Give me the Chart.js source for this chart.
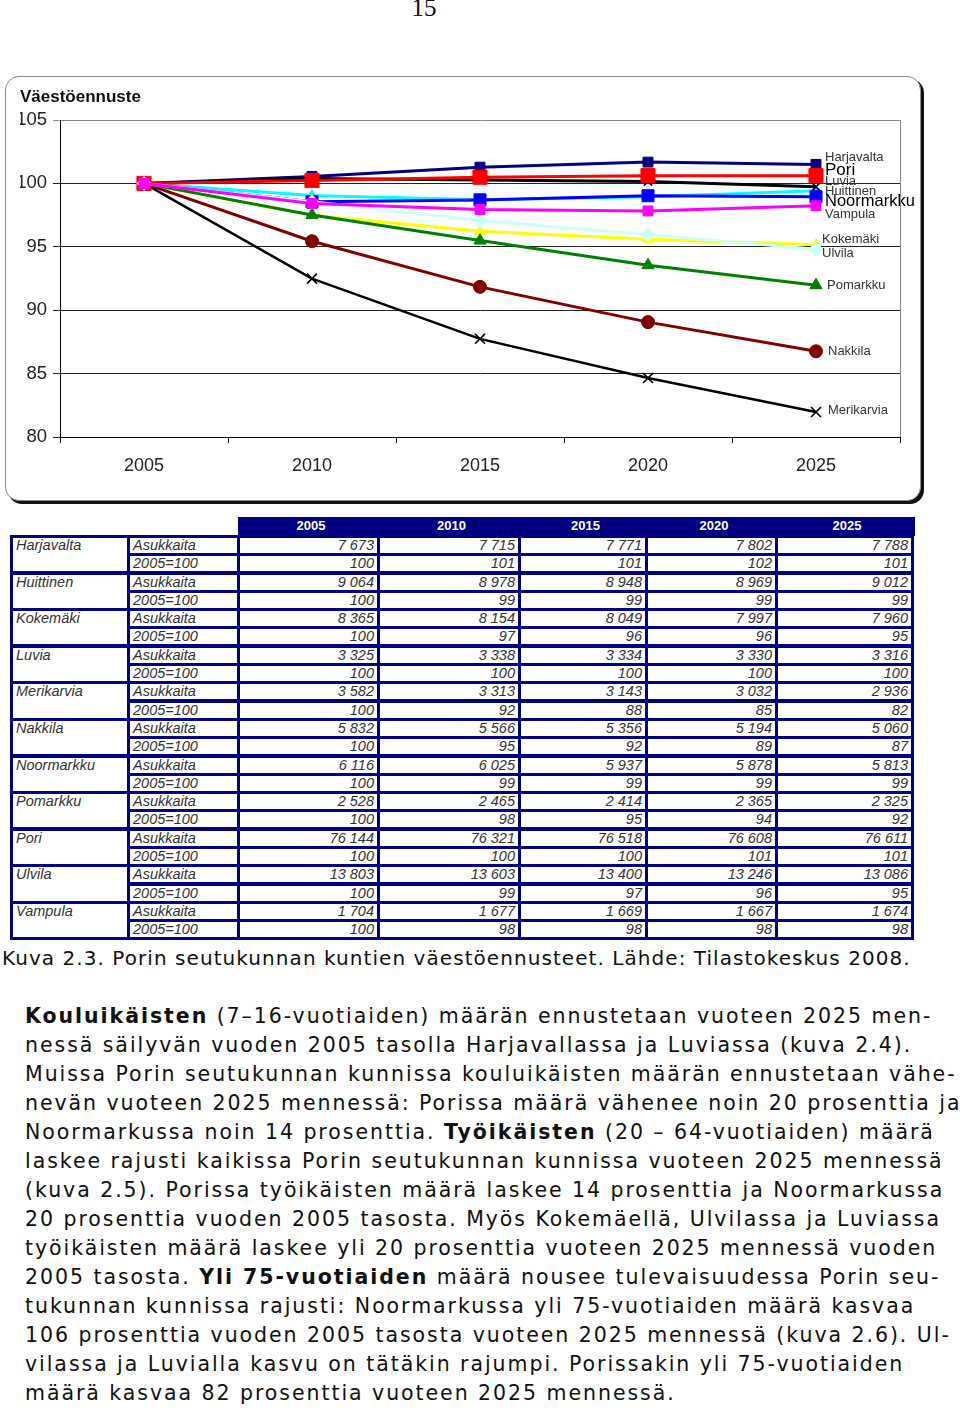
<!DOCTYPE html>
<html lang="fi">
<head>
<meta charset="utf-8">
<title>Väestöennuste</title>
<script src="https://cdn.jsdelivr.net/npm/chart.js@4.4.0/dist/chart.umd.min.js"></script>
<style>
  html, body { margin: 0; padding: 0; background: #fff; }
  body { width: 960px; height: 1411px; position: relative; overflow: hidden; font-family: "Liberation Sans", Arial, sans-serif; }
  .page-no { position: absolute; left: 0; top: -6px; width: 848px; text-align: center; font-family: "Liberation Serif", serif; font-size: 25px; color: #111; }
  .panel { position: absolute; left: 5px; top: 76px; width: 914px; height: 423px; border: 1px solid #8a8a8a; border-radius: 14px; box-shadow: 3px 3px 0 #111; background: #fff; }
  .chart-box { position: absolute; left: 5px; top: 76px; width: 918px; height: 427px; }
  .thead { position: absolute; left: 238px; top: 517px; height: 18px; background: #000080; display: flex; border-bottom: 1px solid #000; }
  .thead div { color: #fff; font-weight: bold; font-size: 13px; line-height: 18px; text-align: center; }
  .grid { position: absolute; left: 10px; top: 535px; background: #000080; padding: 3px; display: grid; column-gap: 3px; row-gap: 3.3px; }
  .grid div { background: #fff; padding: 0 3px; font-size: 14.5px; font-style: italic; color: #333; line-height: 15px; white-space: nowrap; overflow: hidden; }
  .grid div.num { text-align: right; }
  .grid div.name { grid-row: span 2; }
  .caption { position: absolute; left: 2px; top: 946px; font-family: "DejaVu Sans", Verdana, sans-serif; font-size: 20px; letter-spacing: 1.06px; line-height: 24px; color: #111; white-space: pre; }
  .para { position: absolute; left: 25px; top: 1002px; font-family: "DejaVu Sans", Verdana, sans-serif; font-size: 20.5px; letter-spacing: 1.95px; line-height: 29px; color: #111; }
  .para div { white-space: pre; }
</style>
</head>
<body>
<div class="page-no">15</div>
<div class="panel"></div>
<div class="chart-box"><canvas id="chart"></canvas></div>
<div class="thead" id="thead"></div>
<div class="grid" id="table"></div>
<div class="caption">Kuva 2.3. Porin seutukunnan kuntien väestöennusteet. Lähde: Tilastokeskus 2008.</div>
<div class="para">
<div><b>Kouluikäisten</b> (7–16-vuotiaiden) määrän ennustetaan vuoteen 2025 men-</div>
<div>nessä säilyvän vuoden 2005 tasolla Harjavallassa ja Luviassa (kuva 2.4).</div>
<div>Muissa Porin seutukunnan kunnissa kouluikäisten määrän ennustetaan vähe-</div>
<div>nevän vuoteen 2025 mennessä: Porissa määrä vähenee noin 20 prosenttia ja</div>
<div>Noormarkussa noin 14 prosenttia. <b>Työikäisten</b> (20 – 64-vuotiaiden) määrä</div>
<div>laskee rajusti kaikissa Porin seutukunnan kunnissa vuoteen 2025 mennessä</div>
<div>(kuva 2.5). Porissa työikäisten määrä laskee 14 prosenttia ja Noormarkussa</div>
<div>20 prosenttia vuoden 2005 tasosta. Myös Kokemäellä, Ulvilassa ja Luviassa</div>
<div>työikäisten määrä laskee yli 20 prosenttia vuoteen 2025 mennessä vuoden</div>
<div>2005 tasosta. <b>Yli 75-vuotiaiden</b> määrä nousee tulevaisuudessa Porin seu-</div>
<div>tukunnan kunnissa rajusti: Noormarkussa yli 75-vuotiaiden määrä kasvaa</div>
<div>106 prosenttia vuoden 2005 tasosta vuoteen 2025 mennessä (kuva 2.6). Ul-</div>
<div>vilassa ja Luvialla kasvu on tätäkin rajumpi. Porissakin yli 75-vuotiaiden</div>
<div>määrä kasvaa 82 prosenttia vuoteen 2025 mennessä.</div>
</div>

<script>
const years = ['2005', '2010', '2015', '2020', '2025'];

// Kuvaajan indeksit (2005=100), luettu kuvasta
const harjavalta = [100, 100.55, 101.28, 101.68, 101.50];
const huittinen = [100, 99.05, 98.72, 98.95, 99.43];
const kokemaki = [100, 97.48, 96.22, 95.60, 95.16];
const luvia = [100, 100.39, 100.27, 100.15, 99.73];
const merikarvia = [100, 92.49, 87.74, 84.65, 81.97];
const nakkila = [100, 95.44, 91.84, 89.06, 86.76];
const noormarkku = [100, 98.55, 98.70, 99.03, 98.95];
const pomarkku = [100, 97.51, 95.49, 93.55, 91.97];
const pori = [100, 100.23, 100.49, 100.61, 100.61];
const ulvila = [100, 98.55, 97.08, 95.96, 94.81];
const vampula = [100, 98.42, 97.95, 97.83, 98.24];

// Taulukon asukasluvut
const harjavaltaAsuk = [7673, 7715, 7771, 7802, 7788];
const huittinenAsuk = [9064, 8978, 8948, 8969, 9012];
const kokemakiAsuk = [8365, 8154, 8049, 7997, 7960];
const luviaAsuk = [3325, 3338, 3334, 3330, 3316];
const merikarviaAsuk = [3582, 3313, 3143, 3032, 2936];
const nakkilaAsuk = [5832, 5566, 5356, 5194, 5060];
const noormarkkuAsuk = [6116, 6025, 5937, 5878, 5813];
const pomarkkuAsuk = [2528, 2465, 2414, 2365, 2325];
const poriAsuk = [76144, 76321, 76518, 76608, 76611];
const ulvilaAsuk = [13803, 13603, 13400, 13246, 13086];
const vampulaAsuk = [1704, 1677, 1669, 1667, 1674];

// Taulukon indeksirivit (2005=100)
const harjavaltaInd = [100, 101, 101, 102, 101];
const huittinenInd = [100, 99, 99, 99, 99];
const kokemakiInd = [100, 97, 96, 96, 95];
const luviaInd = [100, 100, 100, 100, 100];
const merikarviaInd = [100, 92, 88, 85, 82];
const nakkilaInd = [100, 95, 92, 89, 87];
const noormarkkuInd = [100, 99, 99, 99, 99];
const pomarkkuInd = [100, 98, 95, 94, 92];
const poriInd = [100, 100, 100, 101, 101];
const ulvilaInd = [100, 99, 97, 96, 95];
const vampulaInd = [100, 98, 98, 98, 98];

const kunnat = [
    { name: 'Harjavalta', data: harjavalta, asuk: harjavaltaAsuk, ind: harjavaltaInd, color: '#000080', marker: 'rect', r: 7 },
    { name: 'Huittinen', data: huittinen, asuk: huittinenAsuk, ind: huittinenInd, color: '#00FFFF', marker: 'triangle', r: 6 },
    { name: 'Kokemäki', data: kokemaki, asuk: kokemakiAsuk, ind: kokemakiInd, color: '#FFFF00', marker: 'triangle', r: 6 },
    { name: 'Luvia', data: luvia, asuk: luviaAsuk, ind: luviaInd, color: '#000000', marker: 'crossRot', r: 6 },
    { name: 'Merikarvia', data: merikarvia, asuk: merikarviaAsuk, ind: merikarviaInd, color: '#000000', marker: 'crossRot', r: 7 },
    { name: 'Nakkila', data: nakkila, asuk: nakkilaAsuk, ind: nakkilaInd, color: '#800000', marker: 'circle', r: 6.5 },
    { name: 'Noormarkku', data: noormarkku, asuk: noormarkkuAsuk, ind: noormarkkuInd, color: '#0000FF', marker: 'rect', r: 8.5 },
    { name: 'Pomarkku', data: pomarkku, asuk: pomarkkuAsuk, ind: pomarkkuInd, color: '#008000', marker: 'triangle', r: 7 },
    { name: 'Pori', data: pori, asuk: poriAsuk, ind: poriInd, color: '#FF0000', marker: 'rect', r: 10 },
    { name: 'Ulvila', data: ulvila, asuk: ulvilaAsuk, ind: ulvilaInd, color: '#CCFFFF', marker: 'rectRot', r: 7 },
    { name: 'Vampula', data: vampula, asuk: vampulaAsuk, ind: vampulaInd, color: '#FF00FF', marker: 'rect', r: 7 }
];

// Nimien sijoittelu viivojen päähän
const labelStyle = {
    Harjavalta: { dy: -7, size: 13 },
    Pori: { dy: -5, size: 17 },
    Luvia: { dy: -5, size: 13 },
    Huittinen: { dy: 1, size: 13 },
    Noormarkku: { dy: 5, size: 16.5 },
    Vampula: { dy: 9, size: 13 },
    'Kokemäki': { dy: -5, size: 13, dx: -3 },
    Ulvila: { dy: 4, size: 13, dx: -3 },
    Pomarkku: { dy: 0, size: 13, dx: 2 },
    Nakkila: { dy: 0, size: 13, dx: 3 },
    Merikarvia: { dy: -2, size: 13, dx: 3 }
};

const colW = [114, 107, 137, 138, 124, 127, 133];

function formatNumber(n) {
    return String(n).replace(/\B(?=(\d{3})+(?!\d))/g, ' ');
}

// Taulukko
const thead = document.getElementById('thead');
years.forEach((y, i) => {
    const d = document.createElement('div');
    d.style.width = (colW[i + 2] + 3) + 'px';
    d.textContent = y;
    thead.appendChild(d);
});
thead.firstChild.style.paddingLeft = '3px';

const table = document.getElementById('table');
table.style.gridTemplateColumns = colW.map(w => w + 'px').join(' ');
table.style.gridTemplateRows = `repeat(${kunnat.length * 2}, 15px)`;
let html = '';
kunnat.forEach(k => {
    html += `<div class="name">${k.name}</div><div>Asukkaita</div>` +
        k.asuk.map(v => `<div class="num">${formatNumber(v)}</div>`).join('');
    html += '<div>2005=100</div>' + k.ind.map(v => `<div class="num">${v}</div>`).join('');
});
table.innerHTML = html;

// Kuvaaja
const endLabels = {
    id: 'endLabels',
    afterDatasetsDraw(chart) {
        const ctx = chart.ctx;
        chart.data.datasets.forEach((ds, i) => {
            const meta = chart.getDatasetMeta(i);
            const pt = meta.data[meta.data.length - 1];
            const st = labelStyle[ds.label];
            ctx.save();
            ctx.font = `${st.size}px "Liberation Sans", Arial, sans-serif`;
            ctx.fillStyle = st.size > 14 ? '#000' : '#333';
            ctx.textBaseline = 'middle';
            ctx.fillText(ds.label, pt.x + 9 + (st.dx || 0), pt.y + st.dy);
            ctx.restore();
        });
    }
};

const plotFrame = {
    id: 'plotFrame',
    afterDraw(chart) {
        const a = chart.chartArea;
        const ctx = chart.ctx;
        ctx.save();
        ctx.strokeStyle = '#8a8a8a';
        ctx.lineWidth = 1;
        ctx.beginPath();
        ctx.moveTo(a.right + 0.5, a.top);
        ctx.lineTo(a.right + 0.5, a.bottom);
        ctx.stroke();
        ctx.restore();
    }
};

const ctx = document.getElementById('chart').getContext('2d');
const chart = new Chart(ctx, {
    type: 'line',
    data: {
        labels: years,
        datasets: kunnat.map((k, i) => ({
            label: k.name,
            data: k.data,
            borderColor: k.color,
            backgroundColor: k.color,
            pointBackgroundColor: k.color,
            pointBorderColor: k.color,
            pointStyle: k.marker,
            pointRadius: k.r,
            pointBorderWidth: k.marker === 'crossRot' ? 1.6 : 1,
            borderWidth: k.name === 'Merikarvia' ? 2.5 : 3,
            tension: 0,
            fill: false,
            order: kunnat.length - i
        }))
    },
    options: {
        responsive: true,
        maintainAspectRatio: false,
        animation: false,
        layout: {
            padding: { left: 15, right: 23, top: 0, bottom: 0 }
        },
        plugins: {
            legend: { display: false },
            tooltip: { enabled: false },
            title: {
                display: true,
                text: 'Väestöennuste',
                align: 'start',
                color: '#111',
                font: { size: 17, weight: 'bold', family: '"Liberation Sans", Arial, sans-serif' },
                padding: { top: 11, bottom: 12.6 }
            }
        },
        scales: {
            x: {
                offset: true,
                afterFit: s => { s.height = 66; },
                grid: {
                    offset: true,
                    drawOnChartArea: false,
                    tickLength: 6,
                    color: '#000'
                },
                border: { color: '#000', width: 1 },
                ticks: {
                    color: '#222',
                    padding: 12,
                    font: { size: 18, family: '"Liberation Sans", Arial, sans-serif' }
                }
            },
            y: {
                min: 80,
                max: 105,
                afterFit: s => { s.width = 40; },
                grid: {
                    tickLength: 7,
                    color: c => c.tick && c.tick.value === 105 ? '#8a8a8a' : '#222'
                },
                border: { color: '#000', width: 1 },
                ticks: {
                    stepSize: 5,
                    color: '#222',
                    padding: 6,
                    font: { size: 18.5, family: '"Liberation Sans", Arial, sans-serif' }
                }
            }
        }
    },
    plugins: [endLabels, plotFrame]
});
</script>
</body>
</html>
